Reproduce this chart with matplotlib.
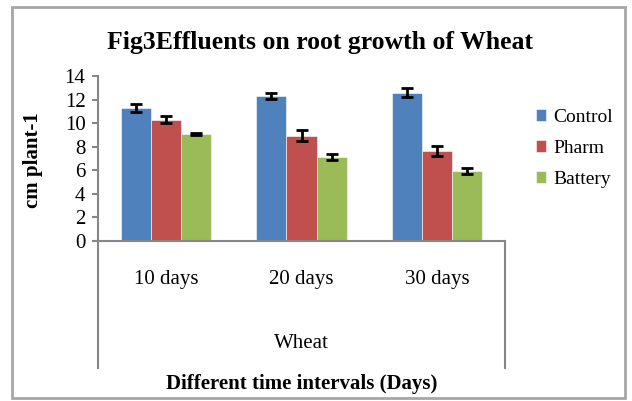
import matplotlib.pyplot as plt
from matplotlib.patches import Rectangle

plt.rcParams["font.family"] = ["Liberation Serif", "DejaVu Serif"]

# data
days = ["10 days", "20 days", "30 days"]
series = ["Control", "Pharm", "Battery"]
control = [11.3, 12.3, 12.6]
pharm = [10.3, 8.95, 7.65]
battery = [9.07, 7.1, 5.95]
control_err = [0.33, 0.28, 0.35]
pharm_err = [0.28, 0.45, 0.42]
battery_err = [0.1, 0.25, 0.28]
colors = ["#4F81BD", "#C0504D", "#9BBB59"]

fig = plt.figure(figsize=(6.32, 4.01), dpi=100)
ax = fig.add_axes([98 / 632, 1 - 241 / 401, 407 / 632, 165 / 401])

# outer chart border
fig.patches.append(Rectangle((12 / 632, 1 - 398 / 401), 613 / 632, 391 / 401,
                             transform=fig.transFigure, fill=False,
                             edgecolor="#A6A6A6", linewidth=2))

w = 0.222
values = [control, pharm, battery]
errs = [control_err, pharm_err, battery_err]
for j in range(3):
    xs = [i + (j - 1) * w for i in range(len(days))]
    ax.bar(xs, values[j], width=w, color=colors[j], label=series[j],
           edgecolor="white", linewidth=0.4)
    ax.errorbar(xs, values[j], yerr=errs[j], fmt="none", ecolor="black",
                elinewidth=2, capsize=4, capthick=2)

ax.set_xlim(-0.5, 2.5)
ax.set_ylim(0, 14)
ax.set_yticks(range(0, 15, 2))
ax.set_xticks(range(3))
ax.set_xticklabels(days)
ax.tick_params(axis="y", labelsize=15, length=4, color="#868686", width=1.5, pad=5)
ax.tick_params(axis="x", labelsize=15, length=0, pad=21)
for s in ["top", "right"]:
    ax.spines[s].set_visible(False)
for s in ["left", "bottom"]:
    ax.spines[s].set_color("#868686")
    ax.spines[s].set_linewidth(1.5)

# category box lines below the axis
ax.plot([0, 0], [0, -0.77], transform=ax.transAxes, clip_on=False, color="#868686", lw=1.5)
ax.plot([1, 1], [0, -0.77], transform=ax.transAxes, clip_on=False, color="#868686", lw=1.5)
ax.text(0.5, -0.62, "Wheat", transform=ax.transAxes, ha="center", va="center", fontsize=15)

fig.text(320 / 632, 1 - 43 / 401, "Fig3Effluents on root growth of Wheat",
         ha="center", va="center", fontsize=18.5, fontweight="bold")
fig.text(302 / 632, 1 - 384 / 401, "Different time intervals (Days)",
         ha="center", va="center", fontsize=15, fontweight="bold")
fig.text(33 / 632, 1 - 160 / 401, "cm plant-1", rotation=90,
         ha="center", va="center", fontsize=15, fontweight="bold")

fig.legend(loc="upper left", bbox_to_anchor=(528 / 632, 1 - 101 / 401),
           frameon=False, fontsize=14, handlelength=0.55, handleheight=0.55,
           handletextpad=0.35, labelspacing=0.73, borderaxespad=0)

fig.savefig("out.png", dpi=100)
